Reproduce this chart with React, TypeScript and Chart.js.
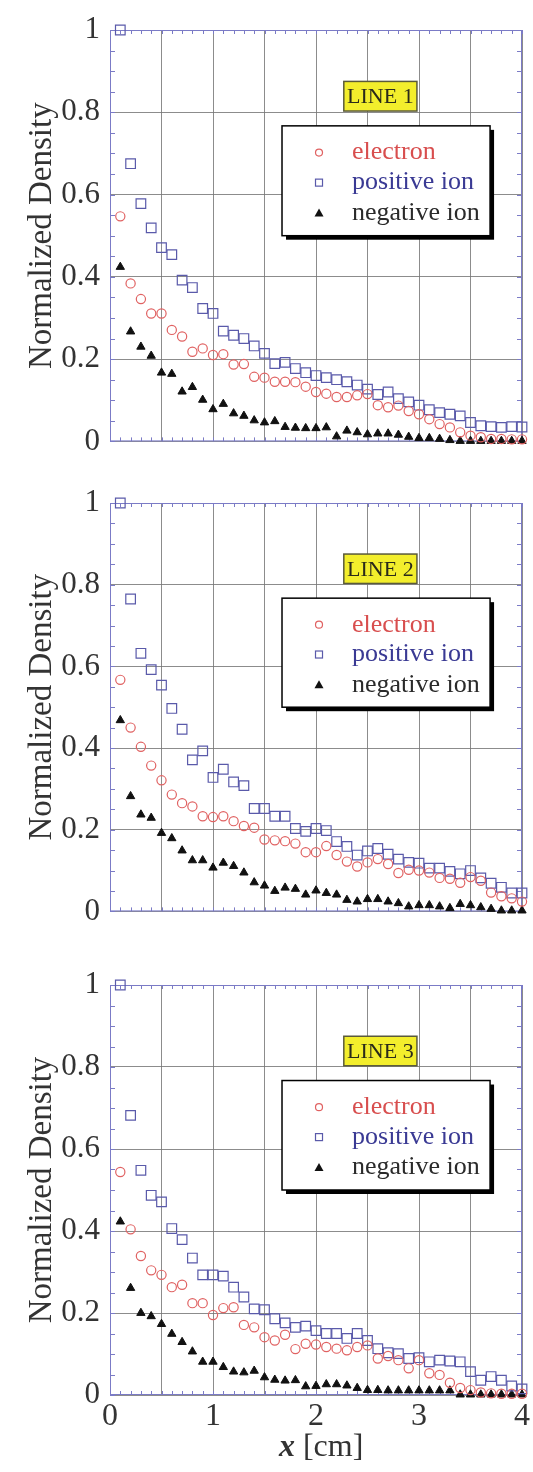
import React, { useEffect, useRef } from "react";
import { Chart, registerables } from "chart.js";

Chart.register(...registerables);

const SERIF = '"Liberation Serif", "Times New Roman", serif';

// ---------- data ----------
const xPositions = [
  0.1, 0.2, 0.3, 0.4, 0.5, 0.6, 0.7, 0.8, 0.9, 1.0,
  1.1, 1.2, 1.3, 1.4, 1.5, 1.6, 1.7, 1.8, 1.9, 2.0,
  2.1, 2.2, 2.3, 2.4, 2.5, 2.6, 2.7, 2.8, 2.9, 3.0,
  3.1, 3.2, 3.3, 3.4, 3.5, 3.6, 3.7, 3.8, 3.9, 4.0,
];

const xTickLabels = ["0", "1", "2", "3", "4"];
const yTickLabels = ["0", "0.2", "0.4", "0.6", "0.8", "1"];
const seriesNames = ["electron", "positive ion", "negative ion"];
const panelTitles = ["LINE 1", "LINE 2", "LINE 3"];
const yAxisTitle = "Normalized Density";
const xAxisTitleVar = "x";
const xAxisTitleUnit = " [cm]";

const line1Electron = [
  0.547, 0.384, 0.346, 0.311, 0.311, 0.271, 0.255, 0.218, 0.226, 0.210,
  0.212, 0.187, 0.188, 0.157, 0.155, 0.145, 0.145, 0.144, 0.133, 0.120,
  0.116, 0.108, 0.108, 0.112, 0.115, 0.088, 0.083, 0.087, 0.074, 0.066,
  0.054, 0.042, 0.034, 0.022, 0.014, 0.010, 0.006, 0.006, 0.005, 0.005,
];
const line1Positive = [
  1.000, 0.675, 0.578, 0.519, 0.471, 0.454, 0.392, 0.374, 0.323, 0.311,
  0.268, 0.258, 0.250, 0.232, 0.214, 0.189, 0.192, 0.177, 0.167, 0.160,
  0.155, 0.150, 0.145, 0.137, 0.127, 0.114, 0.120, 0.104, 0.096, 0.088,
  0.077, 0.070, 0.066, 0.062, 0.046, 0.038, 0.036, 0.034, 0.036, 0.035,
];
const line1Negative = [
  0.424, 0.267, 0.230, 0.208, 0.167, 0.164, 0.121, 0.132, 0.101, 0.078,
  0.091, 0.068, 0.062, 0.051, 0.046, 0.049, 0.035, 0.033, 0.032, 0.032,
  0.034, 0.012, 0.026, 0.022, 0.017, 0.019, 0.019, 0.016, 0.011, 0.008,
  0.008, 0.006, 0.003, 0.001, 0.001, 0.001, 0.001, 0.001, 0.001, 0.001,
];

const line2Electron = [
  0.567, 0.450, 0.403, 0.357, 0.321, 0.286, 0.265, 0.257, 0.233, 0.231,
  0.233, 0.221, 0.209, 0.205, 0.176, 0.174, 0.172, 0.166, 0.145, 0.145,
  0.160, 0.138, 0.122, 0.110, 0.120, 0.128, 0.116, 0.094, 0.102, 0.100,
  0.095, 0.082, 0.080, 0.070, 0.084, 0.075, 0.046, 0.037, 0.032, 0.024,
];
const line2Positive = [
  1.000, 0.765, 0.632, 0.592, 0.554, 0.497, 0.446, 0.371, 0.393, 0.328,
  0.348, 0.317, 0.308, 0.252, 0.252, 0.233, 0.233, 0.203, 0.196, 0.203,
  0.198, 0.171, 0.159, 0.138, 0.148, 0.154, 0.140, 0.128, 0.120, 0.118,
  0.106, 0.106, 0.098, 0.092, 0.100, 0.082, 0.069, 0.059, 0.045, 0.045,
];
const line2Negative = [
  0.468, 0.282, 0.237, 0.229, 0.192, 0.179, 0.149, 0.125, 0.125, 0.107,
  0.119, 0.111, 0.095, 0.071, 0.063, 0.050, 0.058, 0.055, 0.041, 0.051,
  0.045, 0.041, 0.028, 0.024, 0.030, 0.030, 0.024, 0.020, 0.012, 0.015,
  0.015, 0.012, 0.008, 0.018, 0.015, 0.010, 0.006, 0.002, 0.002, 0.002,
];

const line3Electron = [
  0.544, 0.404, 0.339, 0.304, 0.293, 0.263, 0.269, 0.224, 0.224, 0.195,
  0.212, 0.214, 0.171, 0.165, 0.141, 0.133, 0.147, 0.112, 0.125, 0.123,
  0.117, 0.113, 0.109, 0.117, 0.121, 0.089, 0.095, 0.085, 0.065, 0.085,
  0.053, 0.049, 0.030, 0.017, 0.012, 0.006, 0.004, 0.003, 0.003, 0.003,
];
const line3Positive = [
  1.000, 0.682, 0.548, 0.487, 0.471, 0.406, 0.379, 0.334, 0.293, 0.293,
  0.290, 0.263, 0.239, 0.210, 0.208, 0.186, 0.176, 0.165, 0.168, 0.157,
  0.150, 0.150, 0.138, 0.150, 0.133, 0.113, 0.103, 0.101, 0.089, 0.091,
  0.081, 0.085, 0.083, 0.081, 0.057, 0.036, 0.045, 0.036, 0.022, 0.015,
];
const line3Negative = [
  0.423, 0.261, 0.200, 0.192, 0.173, 0.149, 0.129, 0.106, 0.081, 0.081,
  0.068, 0.057, 0.055, 0.059, 0.043, 0.037, 0.035, 0.036, 0.021, 0.022,
  0.026, 0.026, 0.023, 0.017, 0.012, 0.012, 0.011, 0.011, 0.011, 0.011,
  0.011, 0.011, 0.011, 0.001, 0.001, 0.001, 0.001, 0.001, 0.001, 0.001,
];

// ---------- styles ----------
const ELECTRON_COLOR = "#e06262";
const POSITIVE_COLOR = "#5a5aaa";
const NEGATIVE_COLOR = "#111111";
const LEGEND_TEXT = ["#d84e4e", "#3a3a94", "#2a2a2a"];
const GRID_COLOR = "rgba(120,120,120,0.85)";
const FRAME_COLOR = "#7b7bc6";
const TEXT_COLOR = "#333333";

type PanelProps = {
  title: string;
  electron: number[];
  positive: number[];
  negative: number[];
  showX: boolean;
  top: number;
  height: number;
  padTop: number;
  padBottom: number;
};

function drawMarker(ctx: CanvasRenderingContext2D, kind: number, x: number, y: number) {
  ctx.save();
  ctx.lineWidth = 1.2;
  if (kind === 0) {
    ctx.strokeStyle = ELECTRON_COLOR;
    ctx.beginPath();
    ctx.arc(x, y, 3.5, 0, Math.PI * 2);
    ctx.stroke();
  } else if (kind === 1) {
    ctx.strokeStyle = POSITIVE_COLOR;
    ctx.strokeRect(x - 3.5, y - 3.5, 7, 7);
  } else {
    ctx.fillStyle = NEGATIVE_COLOR;
    ctx.beginPath();
    ctx.moveTo(x, y - 4.5);
    ctx.lineTo(x + 4.5, y + 3.5);
    ctx.lineTo(x - 4.5, y + 3.5);
    ctx.closePath();
    ctx.fill();
  }
  ctx.restore();
}

function Panel(p: PanelProps) {
  const ref = useRef<HTMLCanvasElement>(null);
  useEffect(() => {
    const toPts = (ys: number[]) => xPositions.map((x, i) => ({ x, y: ys[i] }));

    const decor = {
      id: "decor",
      beforeDatasetsDraw(chart: any) {
        const { ctx, chartArea: a, scales } = chart;
        const xs = scales.x;
        const ys = scales.y;
        ctx.save();
        ctx.strokeStyle = FRAME_COLOR;
        ctx.lineWidth = 1;
        ctx.beginPath();
        for (let i = 0; i <= 40; i++) {
          const px = Math.round(xs.getPixelForValue(i / 10)) + 0.5;
          ctx.moveTo(px, a.top);
          ctx.lineTo(px, a.top + 4);
          ctx.moveTo(px, a.bottom);
          ctx.lineTo(px, a.bottom - 4);
        }
        for (let i = 0; i <= 20; i++) {
          const py = Math.round(ys.getPixelForValue(i / 20)) + 0.5;
          ctx.moveTo(a.left, py);
          ctx.lineTo(a.left + 5, py);
          ctx.moveTo(a.right, py);
          ctx.lineTo(a.right - 5, py);
        }
        ctx.stroke();
        ctx.strokeRect(a.left + 0.5, a.top + 0.5, a.right - a.left - 1, a.bottom - a.top - 1);
        ctx.restore();
      },
      afterDatasetsDraw(chart: any) {
        const { ctx, scales } = chart;
        const xs = scales.x;
        const ys = scales.y;
        ctx.save();
        // "LINE n" label box
        const tL = xs.getPixelForValue(2.27);
        const tR = xs.getPixelForValue(2.98);
        const tT = ys.getPixelForValue(0.875);
        const tB = ys.getPixelForValue(0.803);
        ctx.fillStyle = "#f3ee2c";
        ctx.fillRect(tL, tT, tR - tL, tB - tT);
        ctx.strokeStyle = "#5a5a3a";
        ctx.lineWidth = 1.5;
        ctx.strokeRect(tL, tT, tR - tL, tB - tT);
        ctx.fillStyle = "#2a2a1a";
        ctx.font = `22px ${SERIF}`;
        ctx.textAlign = "center";
        ctx.textBaseline = "middle";
        ctx.fillText(p.title, (tL + tR) / 2, (tT + tB) / 2 + 1);

        // legend box with drop shadow
        const L = xs.getPixelForValue(1.67);
        const R = xs.getPixelForValue(3.69);
        const T = ys.getPixelForValue(0.767);
        const B = ys.getPixelForValue(0.5);
        ctx.fillStyle = "#000";
        ctx.fillRect(L + 4, T + 4, R - L, B - T);
        ctx.fillStyle = "#fff";
        ctx.fillRect(L, T, R - L, B - T);
        ctx.strokeStyle = "#000";
        ctx.lineWidth = 1.5;
        ctx.strokeRect(L, T, R - L, B - T);
        const rowY = [0.702, 0.629, 0.555];
        chart.data.datasets.forEach((ds: any, i: number) => {
          const y = ys.getPixelForValue(rowY[i]);
          drawMarker(ctx, i, L + 37, y);
          ctx.fillStyle = LEGEND_TEXT[i];
          ctx.font = `26px ${SERIF}`;
          ctx.textAlign = "left";
          ctx.textBaseline = "middle";
          ctx.fillText(ds.label, L + 70, y);
        });
        ctx.restore();
      },
      afterDraw(chart: any) {
        if (!p.showX) return;
        const { ctx, chartArea: a, scales } = chart;
        const cx = scales.x.getPixelForValue(2.05);
        const y = a.bottom + 53;
        ctx.save();
        ctx.fillStyle = TEXT_COLOR;
        ctx.textBaseline = "middle";
        ctx.textAlign = "left";
        ctx.font = `italic bold 32px ${SERIF}`;
        const w1 = ctx.measureText(xAxisTitleVar).width;
        ctx.font = `32px ${SERIF}`;
        const w2 = ctx.measureText(xAxisTitleUnit).width;
        const start = cx - (w1 + w2) / 2;
        ctx.font = `italic bold 32px ${SERIF}`;
        ctx.fillText(xAxisTitleVar, start, y);
        ctx.font = `32px ${SERIF}`;
        ctx.fillText(xAxisTitleUnit, start + w1, y);
        ctx.restore();
      },
    };

    const chart = new Chart(ref.current as HTMLCanvasElement, {
      type: "scatter",
      data: {
        datasets: [
          {
            label: seriesNames[0],
            data: toPts(p.electron),
            pointStyle: "circle",
            pointRadius: 4.6,
            borderWidth: 1.2,
            borderColor: ELECTRON_COLOR,
            backgroundColor: "rgba(0,0,0,0)",
            showLine: false,
            clip: false,
          },
          {
            label: seriesNames[1],
            data: toPts(p.positive),
            pointStyle: "rect",
            pointRadius: 6.8,
            borderWidth: 1.2,
            borderColor: POSITIVE_COLOR,
            backgroundColor: "rgba(0,0,0,0)",
            showLine: false,
            clip: false,
          },
          {
            label: seriesNames[2],
            data: toPts(p.negative),
            pointStyle: "triangle",
            pointRadius: 4.8,
            borderWidth: 1,
            borderColor: NEGATIVE_COLOR,
            backgroundColor: NEGATIVE_COLOR,
            showLine: false,
            clip: false,
          },
        ] as any,
      },
      options: {
        animation: false,
        responsive: false,
        devicePixelRatio: 1,
        layout: { padding: { top: p.padTop, bottom: p.padBottom, left: 0, right: 11 } },
        plugins: {
          legend: { display: false },
          tooltip: { enabled: false },
        },
        scales: {
          x: {
            type: "linear",
            min: 0,
            max: 4,
            ticks: {
              display: p.showX,
              stepSize: 0.5,
              autoSkip: false,
              maxRotation: 0,
              padding: 2,
              color: TEXT_COLOR,
              font: { family: SERIF, size: 32 },
              callback: (v: any) => {
                const n = Number(v);
                return Math.abs(n - Math.round(n)) < 1e-6 ? xTickLabels[Math.round(n)] : "";
              },
            },
            grid: { color: GRID_COLOR, lineWidth: 1, drawTicks: false },
            border: { display: false },
            afterFit: (s: any) => {
              s.height = p.showX ? 77 : 0;
            },
          },
          y: {
            type: "linear",
            min: 0,
            max: 1,
            ticks: {
              stepSize: 0.2,
              padding: 10,
              color: TEXT_COLOR,
              font: { family: SERIF, size: 31 },
              callback: (v: any) => yTickLabels[Math.round(Number(v) * 5)] ?? "",
            },
            grid: { color: GRID_COLOR, lineWidth: 1, drawTicks: false },
            border: { display: false },
            title: {
              display: true,
              text: yAxisTitle,
              color: TEXT_COLOR,
              font: { family: SERIF, size: 33 },
              padding: { top: 23, bottom: 0 },
            },
            afterFit: (s: any) => {
              s.width = 110;
            },
          },
        },
      } as any,
      plugins: [decor],
    });
    return () => chart.destroy();
  }, []);

  return (
    <div style={{ position: "absolute", left: 0, top: p.top, width: 533, height: p.height }}>
      <canvas ref={ref} width={533} height={p.height} style={{ display: "block" }} />
    </div>
  );
}

export default function App() {
  return (
    <div
      style={{
        position: "absolute",
        left: 0,
        top: 0,
        width: 533,
        height: 1472,
        background: "#ffffff",
        overflow: "hidden",
      }}
    >
      <Panel title={panelTitles[0]} electron={line1Electron} positive={line1Positive} negative={line1Negative}
        showX={false} top={0} height={470} padTop={30} padBottom={28} />
      <Panel title={panelTitles[1]} electron={line2Electron} positive={line2Positive} negative={line2Negative}
        showX={false} top={470} height={470} padTop={33} padBottom={27} />
      <Panel title={panelTitles[2]} electron={line3Electron} positive={line3Positive} negative={line3Negative}
        showX={true} top={940} height={532} padTop={45} padBottom={0} />
    </div>
  );
}
